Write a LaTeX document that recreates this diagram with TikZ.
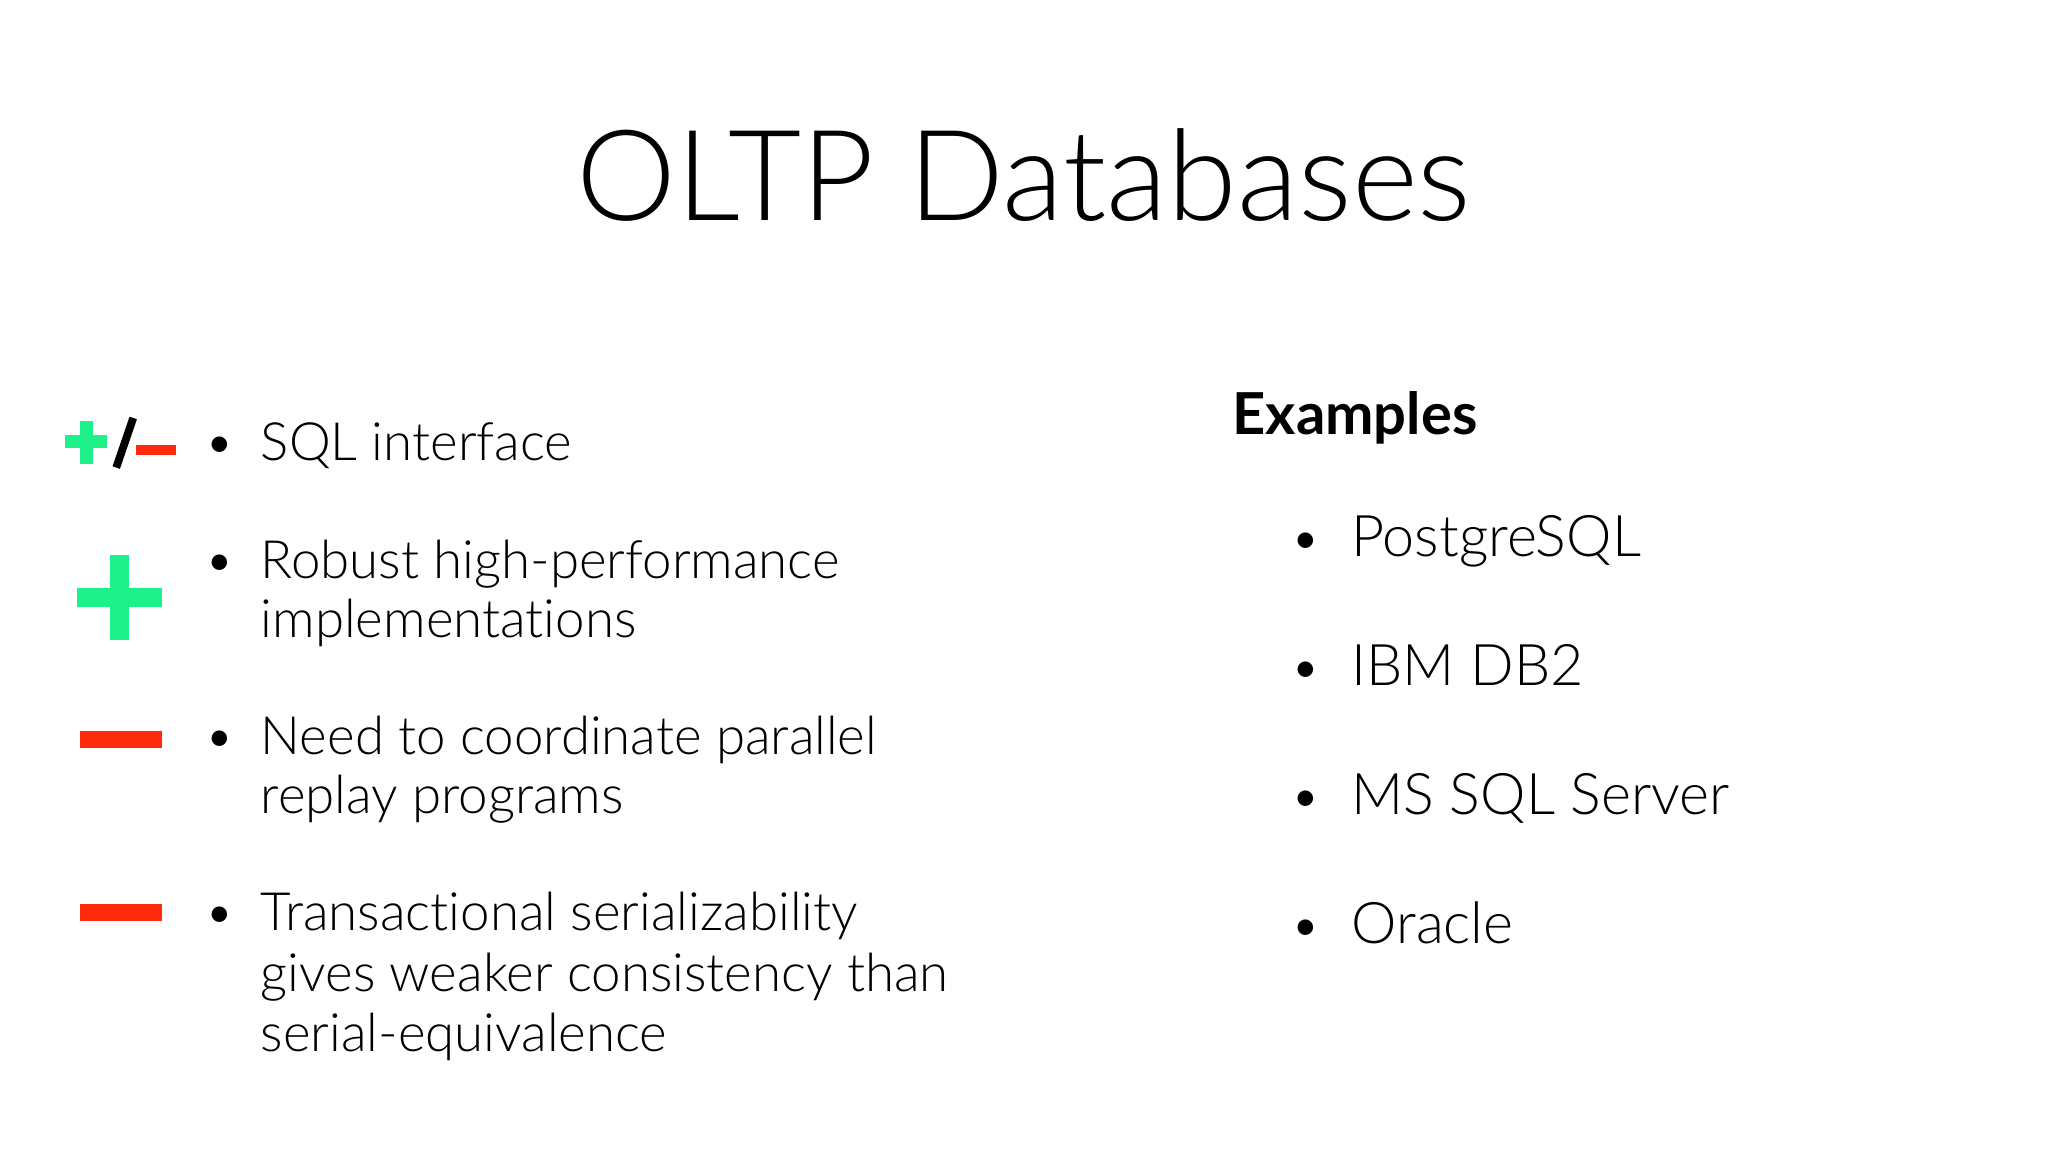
\documentclass[tikz,border=0pt]{standalone}
\usepackage{fontspec}
\setmainfont[Ligatures={NoCommon}]{Lato Light}
\newfontfamily\boldf{Lato Bold}
\definecolor{pgreen}{HTML}{1EF08A}
\definecolor{pred}{HTML}{FF2A0C}
\begin{document}
\begin{tikzpicture}[x=0.01cm,y=-0.01cm,
  txt/.style={anchor=mid west,inner sep=0pt,font=\fontsize{11.5}{14}\selectfont},
  rtxt/.style={anchor=mid west,inner sep=0pt,font=\fontsize{12.5}{15}\selectfont},
  bul/.style={anchor=mid,inner sep=0pt,font=\fontsize{11.5}{14}\selectfont}]
\useasboundingbox (0,0) rectangle (1568,882);
\node[anchor=mid,inner sep=0pt,font=\fontsize{27.5}{34}\selectfont] (title) at (784,160) {OLTP Databases};
% left bullets
\foreach \n/\y in {b1/344,b2/434,b3/569,b4/704}{\node[bul] (\n) at (168,\y) {\textbullet};}
\node[txt] (t1) at (199,344) {SQL interface};
\node[txt] (t2a) at (199,434) {Robust high-performance};
\node[txt] (t2b) at (199,479) {implementations};
\node[txt] (t3a) at (199,569) {Need to coordinate parallel};
\node[txt] (t3b) at (199,614) {replay programs};
\node[txt] (t4a) at (199,704) {Transactional serializability};
\node[txt] (t4b) at (199,750) {gives weaker consistency than};
\node[txt] (t4c) at (199,796) {serial-equivalence};
% icons
\fill[pgreen] (61,322) rectangle (71,355);
\fill[pgreen] (50,333) rectangle (82,343);
\draw[line width=1.7pt] (89,358) -- (102,320);
\fill[pred] (104,341) rectangle (135,348);
\fill[pgreen] (84,425) rectangle (99,490);
\fill[pgreen] (59,450) rectangle (124,465);
\fill[pred] (61,560) rectangle (124,573);
\fill[pred] (61,692) rectangle (124,705);
% right
\node[anchor=mid west,inner sep=0pt,font=\boldf\fontsize{12.6}{16}\selectfont] (ex) at (943,324) {Examples};
\foreach \n/\y in {r1/417,r2/516,r3/615,r4/714}{\node[bul] (\n) at (1000,\y) {\textbullet};}
\node[rtxt] (e1) at (1034,417) {PostgreSQL};
\node[rtxt] (e2) at (1034,516) {IBM DB2};
\node[rtxt] (e3) at (1034,615) {MS SQL Server};
\node[rtxt] (e4) at (1034,714) {Oracle};
\end{tikzpicture}
\end{document}
